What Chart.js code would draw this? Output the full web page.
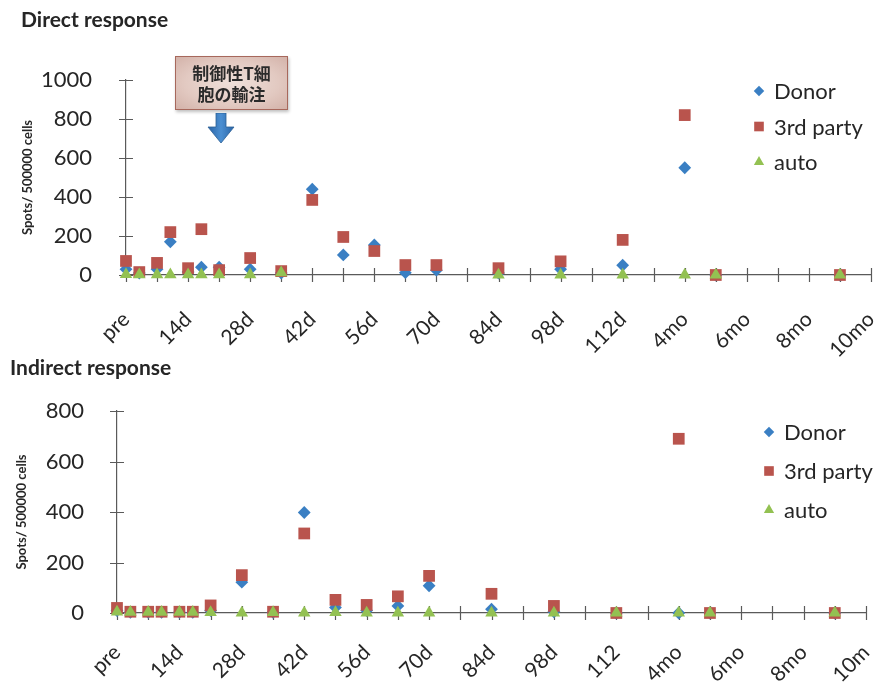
<!DOCTYPE html>
<html>
<head>
<meta charset="utf-8">
<script src="https://cdn.jsdelivr.net/npm/chart.js@4/dist/chart.umd.min.js"></script>
<style>
  html, body { margin: 0; padding: 0; background: #fff; }
  #wrap { position: relative; width: 884px; height: 694px; overflow: hidden; background: #fff; }
  canvas { position: absolute; left: 0; }
  .ttl { position: absolute; font: bold 21px Lato, "Open Sans", sans-serif; color: #262626; line-height: 21px; white-space: nowrap; }
  #note { position: absolute; left: 175px; top: 56px; width: 113px; height: 54px;
          border: 1.5px solid #a7685c; box-sizing: border-box;
          background: radial-gradient(ellipse at center, #efe0da 0%, #e2c9c1 60%, #d3b2a9 100%);
          box-shadow: 1px 2px 3px rgba(0,0,0,0.25);
          font: bold 17px "Noto Sans CJK JP", sans-serif; color: #2a2a2a;
          text-align: center; line-height: 21px; padding-top: 5px; }
  #arrow { position: absolute; left: 207px; top: 113px; }
</style>
</head>
<body>
<div id="wrap">
  <canvas id="direct" width="884" height="372" style="top:0"></canvas>
  <canvas id="indirect" width="884" height="344" style="top:350px"></canvas>
  <div class="ttl" style="left:21px; top:8px;">Direct response</div>
  <div class="ttl" style="left:10px; top:356px;">Indirect response</div>
  <div id="note">制御性T細<br>胞の輸注</div>
  <svg id="arrow" width="28" height="31" viewBox="0 0 28 31">
    <defs>
      <linearGradient id="ag" x1="0" y1="0" x2="1" y2="0">
        <stop offset="0" stop-color="#2a64a6"/>
        <stop offset="0.5" stop-color="#4b8fd2"/>
        <stop offset="1" stop-color="#2a64a6"/>
      </linearGradient>
    </defs>
    <path d="M9 0 H19 V14 H27 L14 30 L1 14 H9 Z" fill="url(#ag)" stroke="#2c5f96" stroke-width="0.8"/>
  </svg>
</div>
<script>
// Sampling days after transplant (pre = day 0); 4mo ≈ day 126
const days = [0, 3, 7, 10, 14, 17, 21, 28, 35, 42, 49, 56, 63, 70, 84, 98, 112, 126, 133, 161];

// Direct response (spots / 500000 cells)
const directDonor = [30, 10, 30, 170, 15, 40, 40, 30, 10, 440, 103, 154, 12, 25, 10, 30, 50, 550, 0, 0];
const directThird = [72, 15, 62, 220, 35, 235, 25, 87, 20, 385, 195, 123, 51, 51, 35, 70, 180, 820, 0, 0];
const directAuto  = [3, 2, 2, 2, 2, 2, 2, 2, 12, null, null, null, null, null, 0, 0, 0, 0, 0, 0];

// Indirect response (spots / 500000 cells)
const indirectDonor = [10, 3, 3, 3, 3, 3, 10, 122, 3, 398, 22, 10, 28, 108, 15, 5, 0, 0, 0, 0];
const indirectThird = [20, 5, 5, 5, 5, 5, 30, 150, 5, 315, 52, 32, 66, 147, 76, 28, 0, 690, 0, 0];
const indirectAuto  = [4, 3, 3, 3, 3, 3, 2, 0, 2, 0, 2, 0, 0, 0, 0, 0, 0, 0, 0, 0];

// Axis labels, one per 14-day major step
const directTickLabels   = ['pre', '14d', '28d', '42d', '56d', '70d', '84d', '98d', '112d', '4mo', '6mo', '8mo', '10mo'];
const indirectTickLabels = ['pre', '14d', '28d', '42d', '56d', '70d', '84d', '98d', '112', '4mo', '6mo', '8mo', '10m'];

const seriesNames = ['Donor', '3rd party', 'auto'];

const COL_DONOR = '#3a7fc3';
const COL_THIRD = '#b9544d';
const COL_AUTO  = '#93c152';
const INK = '#262626';
const AXIS = '#5a5a5a';

function pts(vals) {
  return days.map((d, i) => ({ x: d, y: vals[i] })).filter(p => p.y !== null);
}

// Tick marks that cross the axis lines
const crossTicks = {
  id: 'crossTicks',
  beforeDatasetsDraw(chart, args, opts) {
    const { ctx, chartArea, scales: { x, y } } = chart;
    const len = opts.length || 7;
    ctx.save();
    ctx.strokeStyle = opts.color || AXIS;
    ctx.lineWidth = 1.2;
    ctx.beginPath();
    x.ticks.forEach(t => {
      const px = Math.round(x.getPixelForValue(t.value)) + 0.5;
      ctx.moveTo(px, chartArea.bottom - len);
      ctx.lineTo(px, chartArea.bottom + len);
    });
    y.ticks.forEach(t => {
      const py = Math.round(y.getPixelForValue(t.value)) + 0.5;
      ctx.moveTo(chartArea.left - len, py);
      ctx.lineTo(chartArea.left + len, py);
    });
    ctx.stroke();
    ctx.restore();
  }
};

// Legend drawn inside the plot, on the right
const sideLegend = {
  id: 'sideLegend',
  afterDatasetsDraw(chart, args, opts) {
    const ctx = chart.ctx;
    ctx.save();
    ctx.font = opts.font;
    ctx.textBaseline = 'middle';
    chart.data.datasets.forEach((ds, i) => {
      const y = opts.y + i * opts.gap;
      ctx.fillStyle = ds.backgroundColor;
      Chart.helpers.drawPoint(ctx, {
        pointStyle: ds.pointStyle, radius: ds.pointRadius * opts.scale, borderWidth: 0, rotation: 0
      }, opts.x, y);
      ctx.fillStyle = INK;
      ctx.fillText(ds.label, opts.x + 15, y + 1);
    });
    ctx.restore();
  }
};

function makeChart(id, donor, third, auto, labels, cfg) {
  const datasets = [
    { label: seriesNames[0], data: pts(donor), pointStyle: 'rectRot', pointRadius: 6.4, order: 3 },
    { label: seriesNames[1], data: pts(third), pointStyle: 'rect', pointRadius: 8.3, order: 2 },
    { label: seriesNames[2], data: pts(auto), pointStyle: 'triangle', pointRadius: 7.2, order: 1 }
  ];
  const cols = [COL_DONOR, COL_THIRD, COL_AUTO];
  datasets.forEach((d, i) => {
    d.backgroundColor = cols[i];
    d.borderColor = cols[i];
    d.borderWidth = 0;
    d.pointHoverRadius = d.pointRadius;
    d.clip = false;
  });

  return new Chart(document.getElementById(id), {
    type: 'scatter',
    data: { datasets },
    plugins: [crossTicks, sideLegend],
    options: {
      responsive: false,
      animation: false,
      events: [],
      layout: { padding: { left: 0, top: cfg.top, right: cfg.right, bottom: 0 } },
      plugins: {
        legend: { display: false },
        tooltip: { enabled: false },
        crossTicks: { length: 7, color: AXIS },
        sideLegend: { x: cfg.legX, y: cfg.legY, gap: cfg.legGap, font: '22px Lato, sans-serif', scale: 0.82 }
      },
      scales: {
        x: {
          type: 'linear',
          min: 0, max: 168,
          grid: { display: false },
          border: { display: true, color: AXIS, width: 1.2 },
          ticks: {
            stepSize: 7,
            autoSkip: false,
            minRotation: 45, maxRotation: 45,
            padding: cfg.xPad,
            color: INK,
            font: { family: 'Lato', size: 21 },
            callback: (v) => (v % 14 === 0 ? labels[v / 14] : '')
          },
          afterFit(s) { s.height = cfg.xH; s.paddingLeft = 0; s.paddingRight = 0; }
        },
        y: {
          min: 0, max: cfg.yMax,
          grid: { display: false },
          border: { display: true, color: AXIS, width: 1.2 },
          ticks: {
            stepSize: 200,
            padding: cfg.yPad,
            color: INK,
            font: { family: 'Lato', size: 22 },
            callback: (v) => String(v)
          },
          title: {
            display: true,
            text: 'Spots/ 500000 cells',
            color: INK,
            font: { family: 'Lato', size: 13, weight: 'bold' },
            padding: { top: cfg.titlePad, bottom: 0 }
          },
          afterFit(s) { s.width = cfg.yW; s.paddingTop = 0; s.paddingBottom = 0; }
        }
      }
    }
  });
}

makeChart('direct', directDonor, directThird, directAuto, directTickLabels, {
  top: 80, right: 13, xH: 97, yW: 126, yMax: 1000, xPad: 24, yPad: 26, titlePad: 20,
  legX: 759, legY: 91, legGap: 35.5
});

makeChart('indirect', indirectDonor, indirectThird, indirectAuto, indirectTickLabels, {
  top: 61, right: 18, xH: 81, yW: 117, yMax: 800, xPad: 19, yPad: 25, titlePad: 14,
  legX: 769, legY: 82, legGap: 39
});
</script>
</body>
</html>
